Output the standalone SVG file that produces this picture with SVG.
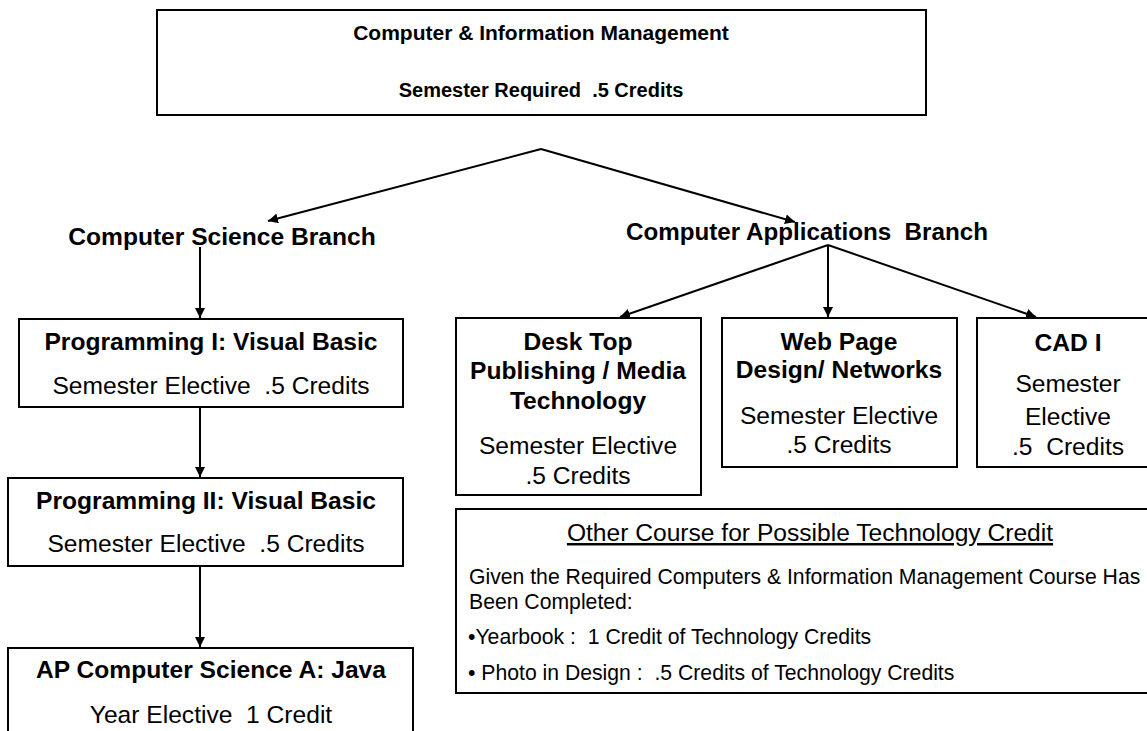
<svg xmlns="http://www.w3.org/2000/svg" width="1147" height="731" viewBox="0 0 1147 731">
<defs>
<marker id="ah" viewBox="0 0 10 10" refX="10" refY="5" markerWidth="10" markerHeight="10" markerUnits="userSpaceOnUse" orient="auto">
<path d="M0,0 L10,5 L0,10 z" fill="#000"/>
</marker>
<style>
text{font-family:"Liberation Sans",Arial,sans-serif;fill:#000;white-space:pre}
.b{font-weight:bold;font-size:24.6px;text-anchor:middle}
.r{font-size:24.6px;text-anchor:middle}
.t{font-weight:bold;font-size:20px;text-anchor:middle}
.s{font-size:21.2px}
.box{fill:#fff;stroke:#000;stroke-width:2}
.c{fill:none;stroke:#000;stroke-width:2}
</style>
</defs>
<rect width="1147" height="731" fill="#fff"/>
<g id="connectors">
<line class="c" x1="541" y1="149" x2="268" y2="221" marker-end="url(#ah)"/>
<line class="c" x1="541" y1="149" x2="795" y2="222" marker-end="url(#ah)"/>
<line class="c" x1="200" y1="247" x2="200" y2="318" marker-end="url(#ah)"/>
<line class="c" x1="200" y1="407" x2="200" y2="477" marker-end="url(#ah)"/>
<line class="c" x1="200" y1="566" x2="200" y2="647" marker-end="url(#ah)"/>
<line class="c" x1="828" y1="245" x2="620" y2="317" marker-end="url(#ah)"/>
<line class="c" x1="828" y1="245" x2="828" y2="317" marker-end="url(#ah)"/>
<line class="c" x1="828" y1="245" x2="1036" y2="317" marker-end="url(#ah)"/>
</g>
<g id="top">
<rect class="box" x="157" y="10" width="769" height="105"/>
<text class="t" x="541" y="40" style="font-size:21px">Computer &amp; Information Management</text>
<text class="t" x="541" y="97">Semester Required  .5 Credits</text>
</g>
<g id="cs-branch">
<text class="b" x="222" y="245">Computer Science Branch</text>
</g>
<g id="ca-branch">
<text class="b" x="626" y="240" style="text-anchor:start;font-size:24.2px">Computer Applications  Branch</text>
</g>
<g id="prog1">
<rect class="box" x="19" y="319" width="384" height="88"/>
<text class="b" x="211" y="350">Programming I: Visual Basic</text>
<text class="r" x="211" y="394">Semester Elective  .5 Credits</text>
</g>
<g id="prog2">
<rect class="box" x="8" y="478" width="395" height="88"/>
<text class="b" x="206" y="509">Programming II: Visual Basic</text>
<text class="r" x="206" y="552">Semester Elective  .5 Credits</text>
</g>
<g id="apcs">
<rect class="box" x="8" y="648" width="405" height="100"/>
<text class="b" x="211" y="678">AP Computer Science A: Java</text>
<text class="r" x="211" y="723">Year Elective  1 Credit</text>
</g>
<g id="dtp">
<rect class="box" x="456" y="318" width="245" height="177"/>
<text class="b" x="578" y="350">Desk Top</text>
<text class="b" x="578" y="379">Publishing / Media</text>
<text class="b" x="578" y="409">Technology</text>
<text class="r" x="578" y="454">Semester Elective</text>
<text class="r" x="578" y="484">.5 Credits</text>
</g>
<g id="web">
<rect class="box" x="722" y="318" width="235" height="149"/>
<text class="b" x="839" y="350">Web Page</text>
<text class="b" x="839" y="378">Design/ Networks</text>
<text class="r" x="839" y="424">Semester Elective</text>
<text class="r" x="839" y="453">.5 Credits</text>
</g>
<g id="cad">
<rect class="box" x="977" y="318" width="185" height="149"/>
<text class="b" x="1068" y="351">CAD I</text>
<text class="r" x="1068" y="392">Semester</text>
<text class="r" x="1068" y="425">Elective</text>
<text class="r" x="1068" y="455">.5  Credits</text>
</g>
<g id="other">
<rect class="box" x="456" y="509" width="710" height="184"/>
<text class="r" x="810" y="541" text-decoration="underline">Other Course for Possible Technology Credit</text>
<text class="s" x="469" y="584">Given the Required Computers &amp; Information Management Course Has</text>
<text class="s" x="469" y="609">Been Completed:</text>
<text class="s" x="468" y="644">•Yearbook :  1 Credit of Technology Credits</text>
<text class="s" x="468" y="680">• Photo in Design :  .5 Credits of Technology Credits</text>
</g>
</svg>
